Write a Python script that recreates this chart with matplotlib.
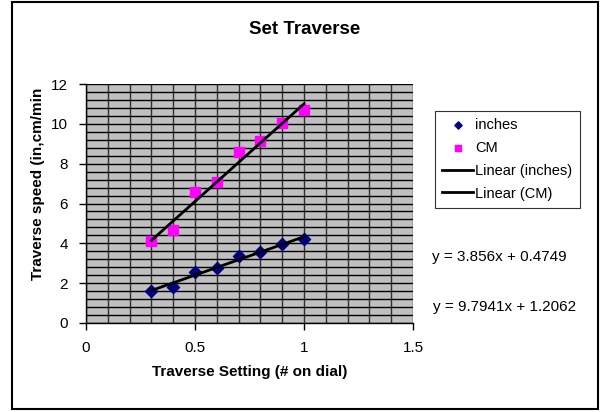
import matplotlib
matplotlib.use("Agg")
import matplotlib.pyplot as plt
from matplotlib.ticker import MultipleLocator, FormatStrFormatter
from matplotlib.patches import Rectangle
import numpy as np

# Données
setting = [0.3, 0.4, 0.5, 0.6, 0.7, 0.8, 0.9, 1.0]
inches = [1.6, 1.8, 2.56, 2.75, 3.37, 3.55, 3.95, 4.2]
cm = [4.1, 4.65, 6.6, 7.07, 8.6, 9.15, 10.05, 10.7]

# Coefficients des droites de tendance (affichés sur le graphique)
fit_inches = (3.856, 0.4749)
fit_cm = (9.7941, 1.2062)
eq_labels = ["y = 3.856x + 0.4749", "y = 9.7941x + 1.2062"]

plt.rcParams['font.family'] = ['Liberation Sans', 'DejaVu Sans']

W, H = 600, 412
fig = plt.figure(figsize=(6, 4.12), dpi=100)
ax = fig.add_axes([86 / W, 1 - 323 / H, 327 / W, 239 / H])
ax.set_facecolor('#C0C0C0')

ax.set_xlim(0, 1.5)
ax.set_ylim(0, 12)
ax.xaxis.set_major_locator(MultipleLocator(0.5))
ax.xaxis.set_minor_locator(MultipleLocator(0.1))
ax.xaxis.set_major_formatter(FormatStrFormatter('%g'))
ax.yaxis.set_major_locator(MultipleLocator(2))
ax.yaxis.set_minor_locator(MultipleLocator(0.4))
ax.xaxis.grid(True, which='both', color='#303030', linewidth=1.0)
ax.yaxis.grid(True, which='both', color='black', linewidth=1.0)
ax.set_axisbelow(True)
ax.tick_params(which='minor', length=0)
ax.tick_params(which='major', direction='out', length=5, width=1,
               labelsize=11, pad=8)
for s in ['top', 'right']:
    ax.spines[s].set_visible(False)
for s in ['left', 'bottom']:
    ax.spines[s].set_color('black')
    ax.spines[s].set_linewidth(1)

x = np.array([setting[0], setting[-1]])
ax.scatter(setting, inches, marker='D', s=38, color='#000080', zorder=3,
           label='inches')
ax.scatter(setting, cm, marker='s', s=48, color='#FF00FF', zorder=3,
           label='CM')
ax.plot(x, fit_inches[0] * x + fit_inches[1], color='black', lw=2,
        zorder=4, label='Linear (inches)')
ax.plot(x, fit_cm[0] * x + fit_cm[1], color='black', lw=2,
        zorder=4, label='Linear (CM)')

fig.text(305 / W, 1 - 29 / H, 'Set Traverse', ha='center', va='center',
         fontsize=13.5, fontweight='bold')
fig.text(250 / W, 1 - 372 / H, 'Traverse Setting (# on dial)', ha='center',
         va='center', fontsize=11, fontweight='bold')
fig.text(38 / W, 1 - 184 / H, 'Traverse speed (in,cm/min', ha='center',
         va='center', fontsize=11, fontweight='bold', rotation=90)

leg = fig.legend(loc='upper left', bbox_to_anchor=(435 / W, 1 - 111 / H),
                 fontsize=10.5, frameon=True, fancybox=False,
                 edgecolor='black', handlelength=2.1, handletextpad=0.15,
                 labelspacing=0.6, borderpad=0.5, borderaxespad=0,
                 markerscale=0.6)
leg.get_frame().set_linewidth(0.8)

fig.text(432 / W, 1 - 257 / H, eq_labels[0], ha='left', va='center',
         fontsize=11)
fig.text(433 / W, 1 - 307 / H, eq_labels[1], ha='left', va='center',
         fontsize=11)

fig.patches.append(Rectangle((12 / W, 1 - 409 / H), 586 / W, 407 / H,
                             transform=fig.transFigure, fill=False,
                             edgecolor='black', linewidth=1.5))

fig.savefig('out.png', dpi=100)
